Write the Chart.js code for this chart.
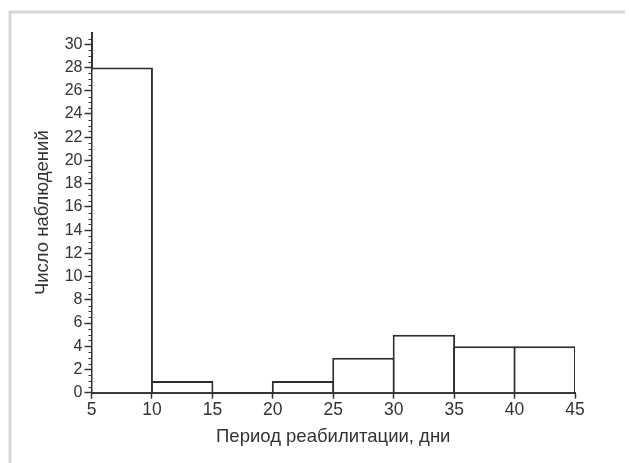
<!DOCTYPE html>
<html>
<head>
<meta charset="utf-8">
<script src="https://cdn.jsdelivr.net/npm/chart.js@4"></script>
<style>
    html, body { margin: 0; padding: 0; background: #fff; }
    #wrap { width: 629px; height: 463px; }
</style>
</head>
<body>
<div id="wrap"><canvas id="hist" width="629" height="463"></canvas></div>
<script>
// интервалы (дни) и число наблюдений в каждом
const binStarts = [5, 10, 15, 20, 25, 30, 35, 40];
const binWidth = 5;
const counts = [28, 1, 0, 1, 3, 5, 4, 4];

const xTitle = 'Период реабилитации, дни';
const yTitle = 'Число наблюдений';

const ink = '#333';
const fontFamily = '"Liberation Sans", Arial, sans-serif';

// лист со сканом: серая рамка сверху и слева
const pageFrame = {
    id: 'pageFrame',
    beforeDraw(chart) {
        const ctx = chart.ctx;
        ctx.save();
        ctx.fillStyle = '#fff';
        ctx.fillRect(0, 0, chart.width, chart.height);
        ctx.strokeStyle = '#d8d8d8';
        ctx.lineWidth = 3;
        ctx.beginPath();
        ctx.moveTo(10, chart.height);
        ctx.lineTo(10, 12);
        ctx.lineTo(chart.width - 4, 12);
        ctx.stroke();
        ctx.restore();
    }
};

// мелкие деления на оси Y
const yMinorTicks = {
    id: 'yMinorTicks',
    afterDraw(chart) {
        const ctx = chart.ctx;
        const y = chart.scales.y;
        const left = chart.chartArea.left;
        ctx.save();
        ctx.strokeStyle = ink;
        ctx.lineWidth = 1;
        ctx.beginPath();
        for (let v = 0.5; v < y.max; v += 0.5) {
            if (v % 2 === 0) continue;
            const py = Math.round(y.getPixelForValue(v)) + 0.5;
            ctx.moveTo(left - 3, py);
            ctx.lineTo(left, py);
        }
        ctx.stroke();
        ctx.restore();
    }
};

new Chart(document.getElementById('hist'), {
    type: 'bar',
    data: {
        datasets: [{
            data: binStarts.map((s, i) => ({ x: s + binWidth / 2, y: counts[i] })),
            backgroundColor: '#fff',
            borderColor: '#2e2e2e',
            borderWidth: 2,
            borderSkipped: 'start',
            // столбцы чуть шире интервала, чтобы общие стороны совпали
            barPercentage: 1.033,
            categoryPercentage: 1
        }]
    },
    options: {
        responsive: false,
        animation: false,
        layout: { padding: { left: 10, right: 54, top: 32.7, bottom: 0 } },
        plugins: { legend: { display: false }, tooltip: { enabled: false } },
        scales: {
            x: {
                type: 'linear',
                min: 5,
                max: 45,
                offset: false,
                afterFit: scale => { scale.height = 70.3; },
                grid: { display: true, drawOnChartArea: false, offset: false, tickLength: 6, color: ink, tickWidth: 1.5 },
                border: { color: ink, width: 2 },
                ticks: { stepSize: 5, color: ink, padding: 1, maxRotation: 0, font: { family: fontFamily, size: 17.5 } },
                title: { display: true, text: xTitle, color: ink, padding: { top: 0, bottom: 15 }, font: { family: fontFamily, size: 18.5 } }
            },
            y: {
                min: 0,
                max: 31,
                afterFit: scale => { scale.width = 81.5; },
                grid: { display: true, drawOnChartArea: false, tickLength: 7, color: ink, tickWidth: 1.5 },
                border: { color: ink, width: 2 },
                ticks: { stepSize: 2, includeBounds: false, color: ink, padding: 2, font: { family: fontFamily, size: 16 } },
                title: { display: true, text: yTitle, color: ink, padding: { top: 22, bottom: 0 }, font: { family: fontFamily, size: 18.5 } }
            }
        }
    },
    plugins: [pageFrame, yMinorTicks]
});
</script>
</body>
</html>
